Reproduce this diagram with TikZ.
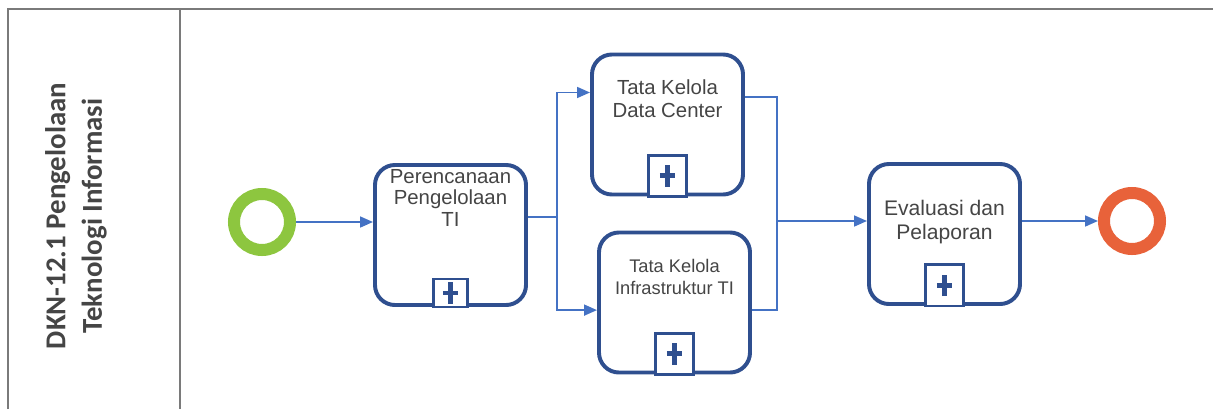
\documentclass[tikz,border=0pt]{standalone}
\usepackage{fontspec}
\setmainfont{Liberation Sans}
\newfontfamily\lanefont{Carlito}
\usetikzlibrary{arrows.meta, positioning, calc}
\definecolor{taskblue}{HTML}{2F4F8F}
\definecolor{flowblue}{HTML}{4472C4}
\definecolor{startgreen}{HTML}{8DC63F}
\definecolor{endorange}{HTML}{E8623A}
\definecolor{textgray}{HTML}{454545}
\definecolor{lanegray}{HTML}{7A7A7A}
\tikzset{
  lane/.style={draw=lanegray, line width=1pt},
  lanetext/.style={
    rotate=90, align=center, text=textgray, inner sep=0,
    font=\lanefont\bfseries\fontsize{20.5}{26}\selectfont,
  },
  startev/.style={
    circle, draw=startgreen, line width=0.3cm,
    minimum size=1.4cm, inner sep=0, fill=white,
  },
  endev/.style={
    circle, draw=endorange, line width=0.3cm,
    minimum size=1.4cm, inner sep=0, fill=white,
  },
  task/.style={
    rectangle, rounded corners=0.5cm,
    minimum width=3.775cm, minimum height=3.5cm,
    draw=taskblue, line width=2.8pt, fill=white, inner sep=0,
  },
  tasktext/.style={
    align=center, text=textgray, inner sep=0,
    font=\fontsize{14.5}{16.5}\selectfont,
  },
  marker/.style={
    rectangle, draw=taskblue, line width=2.1pt, fill=white,
    inner sep=0, outer sep=0,
  },
  plus/.style={draw=taskblue, line width=3.5pt},
  bus/.style={draw=flowblue, line width=1.3pt},
  flow/.style={bus, -{Triangle[length=0.32cm, width=0.27cm]}},
}

\begin{document}
\begin{tikzpicture}[x=0.025cm, y=-0.025cm]
  \useasboundingbox (0,0) rectangle (1213,409);

  % pool and lane
  \draw[lane] (8,409) -- (8,9) -- (1213,9);
  \draw[lane] (180,9) -- (180,409);
  \node[lanetext] (lanelbl) at (76,216) {DKN-12.1 Pengelolaan\\Teknologi Informasi};

  % events and tasks
  \node[startev] (start) at (262,222) {};
  \node[task] (plan) at (450.5,235) {};
  \node[task] (dc) at (667.5,124.5) {};
  \node[task] (infra) at (674.5,302.5) {};
  \node[task] (eval) at (944.5,234) {};
  \node[endev] (finish) at (1132,221) {};

  \node[tasktext, font=\fontsize{14.5}{15.5}\selectfont] (plan-t) at ([yshift=0.93cm]plan.center) {Perencanaan\\Pengelolaan\\TI};
  \node[tasktext] (dc-t) at ([yshift=0.64cm]dc.center) {Tata Kelola\\Data Center};
  \node[tasktext, font=\fontsize{13}{16}\selectfont] (infra-t) at ([yshift=0.64cm]infra.center) {Tata Kelola\\Infrastruktur TI};
  \node[tasktext, font=\fontsize{15}{17.5}\selectfont] (eval-t) at ([yshift=0.3cm]eval.center) {Evaluasi dan\\Pelaporan};

  % sub-process markers
  \foreach \b/\w/\h in {plan/0.85cm/0.7cm, dc/0.95cm/1.03cm, infra/0.95cm/1.03cm, eval/0.95cm/1.03cm}{
    \node[marker, minimum width=\w, minimum height=\h, above=0pt of \b.south] (\b-m) {};
    \draw[plus] ([yshift=-0.27cm]\b-m.center) -- ([yshift=0.27cm]\b-m.center);
    \draw[plus] ([xshift=-0.19cm]\b-m.center) -- ([xshift=0.19cm]\b-m.center);
  }

  % sequence flows
  \coordinate (fork) at (557,217);
  \coordinate (join) at (777,221);
  \draw[flow] (start) -- (start -| plan.west);
  \draw[bus] (plan.east |- fork) -- (fork);
  \draw[flow] (fork) |- ([yshift=0.8cm]dc.west);
  \draw[flow] (fork) |- ([yshift=-0.19cm]infra.west);
  \draw[bus] ([yshift=0.69cm]dc.east) -| (join);
  \draw[bus] ([yshift=-0.19cm]infra.east) -| (join);
  \draw[flow] (join) -- (join -| eval.west);
  \draw[flow] (finish -| eval.east) -- (finish);

\end{tikzpicture}
\end{document}
